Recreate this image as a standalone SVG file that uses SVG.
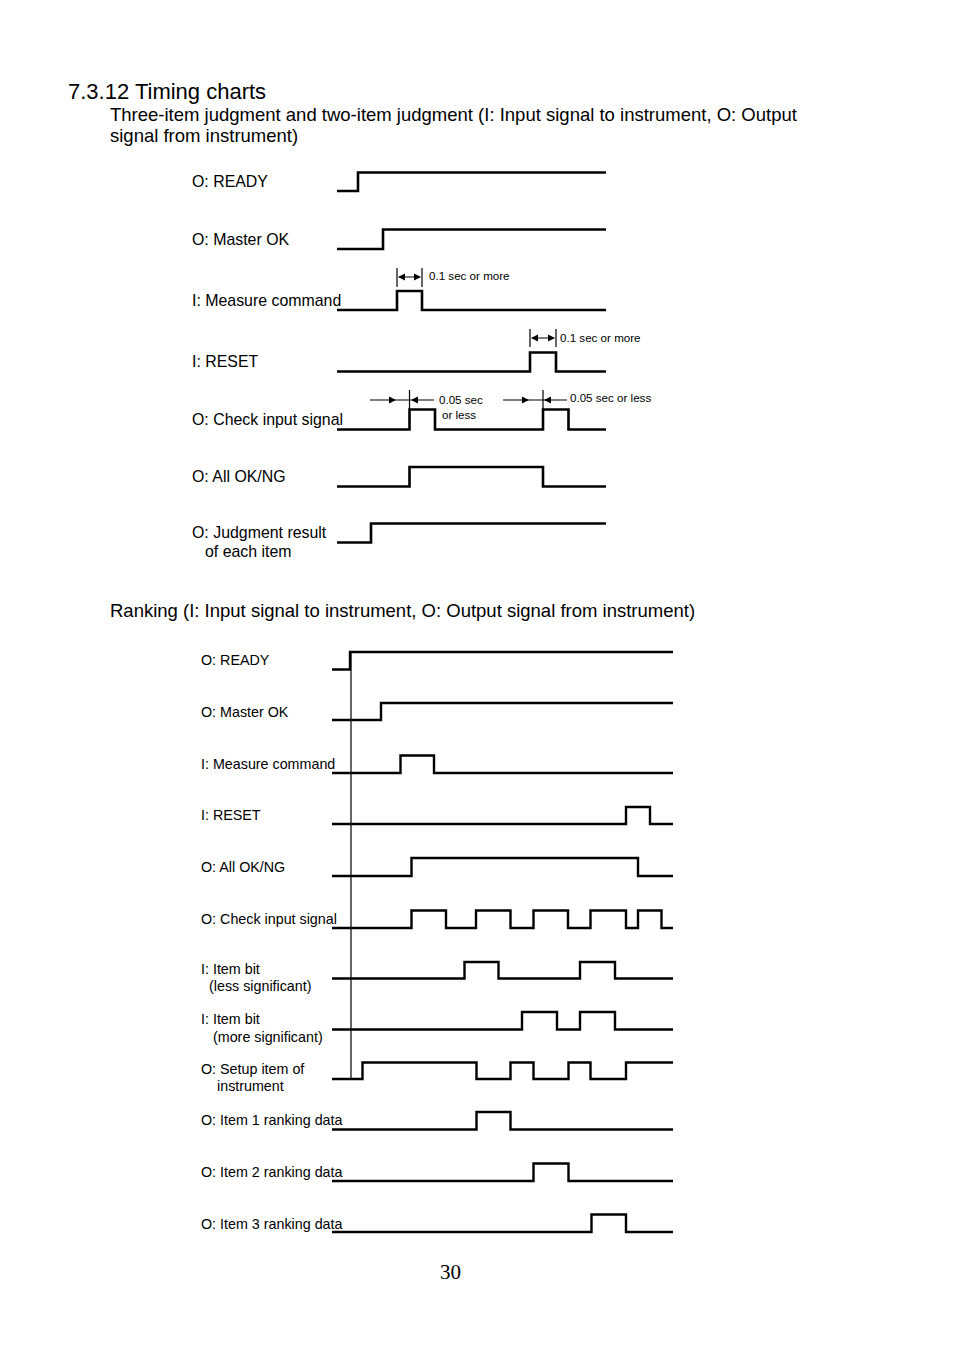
<svg xmlns="http://www.w3.org/2000/svg" width="954" height="1348" viewBox="0 0 954 1348">
<style>
text{font-family:"Liberation Sans",Arial,sans-serif;fill:#000}
.h1{font-size:22px}
.h2{font-size:18.5px}
.l1{font-size:15.9px}
.l2{font-size:14.3px}
.s{font-size:11.6px}
.w{fill:none;stroke:#000;stroke-width:2.6;stroke-linejoin:miter;stroke-linecap:butt}
.w2{fill:none;stroke:#000;stroke-width:2.4;stroke-linejoin:miter}
.t{fill:none;stroke:#000;stroke-width:1.2}
.ah{fill:#000}
</style>
<rect width="954" height="1348" fill="#fff"/>
<g id="heading">
<text class="h1" x="68" y="99">7.3.12 Timing charts</text>
<text class="h2" x="110" y="121">Three-item judgment and two-item judgment (I: Input signal to instrument, O: Output</text>
<text class="h2" x="110" y="142">signal from instrument)</text>
</g>
<g id="chart1">
<g id="c1-ready"><text class="l1" x="192" y="187">O: READY</text><path class="w" d="M337,191 H358 V172.5 H606"/></g>
<g id="c1-masterok"><text class="l1" x="192" y="245">O: Master OK</text><path class="w" d="M337,249 H383 V229.5 H606"/></g>
<g id="c1-measure"><text class="l1" x="192" y="306">I: Measure command</text><path class="w" d="M337,310 H397 V291 H422 V310 H606"/></g>
<g id="c1-reset"><text class="l1" x="192" y="367">I: RESET</text><path class="w" d="M337,371.5 H530 V352.5 H556 V371.5 H606"/></g>
<g id="c1-check"><text class="l1" x="192" y="425">O: Check input signal</text><path class="w" d="M337,429.5 H409.5 V409.5 H435 V429.5 H543 V409.5 H568.5 V429.5 H606"/></g>
<g id="c1-allok"><text class="l1" x="192" y="482">O: All OK/NG</text><path class="w" d="M337,486.5 H409.5 V467 H543 V486.5 H606"/></g>
<g id="c1-judg"><text class="l1" x="192" y="538">O: Judgment result</text><text class="l1" x="205" y="557">of each item</text><path class="w" d="M337,542.5 H371 V523.5 H606"/></g>
</g>
<g id="dimensions">
<g id="dim1">
<path class="t" d="M397,268 V287 M422,268 V287 M399,277 H420"/>
<polygon class="ah" points="398,277 405,273.5 405,280.5"/>
<polygon class="ah" points="421,277 414,273.5 414,280.5"/>
<text class="s" x="429" y="280">0.1 sec or more</text>
</g>
<g id="dim2">
<path class="t" d="M530,329 V347 M556,329 V347 M532,338 H554"/>
<polygon class="ah" points="531,338 538,334.5 538,341.5"/>
<polygon class="ah" points="555,338 548,334.5 548,341.5"/>
<text class="s" x="560" y="342">0.1 sec or more</text>
</g>
<g id="dim3">
<path class="t" d="M409.5,390 V409 M370,400 H409.5 M410,400 H434"/>
<polygon class="ah" points="396,400 389,396.5 389,403.5"/>
<polygon class="ah" points="411,400 418,396.5 418,403.5"/>
<text class="s" x="439" y="404">0.05 sec</text>
<text class="s" x="442" y="419">or less</text>
</g>
<g id="dim4">
<path class="t" d="M543,390 V409 M503,400 H543 M543,400 H567"/>
<polygon class="ah" points="529,400 522,396.5 522,403.5"/>
<polygon class="ah" points="544,400 551,396.5 551,403.5"/>
<text class="s" x="570" y="402">0.05 sec or less</text>
</g>
</g>
<g id="heading2"><text class="h2" x="110" y="617">Ranking (I: Input signal to instrument, O: Output signal from instrument)</text></g>
<g id="chart2">
<g id="c2-ready"><text class="l2" x="201" y="665">O: READY</text><path class="w2" d="M332,669.5 H350 V652 H673"/></g>
<g id="c2-masterok"><text class="l2" x="201" y="717">O: Master OK</text><path class="w2" d="M332,720 H381 V703 H673"/></g>
<g id="c2-measure"><text class="l2" x="201" y="769">I: Measure command</text><path class="w2" d="M332,773 H400.5 V755.5 H434 V773 H673"/></g>
<g id="c2-reset"><text class="l2" x="201" y="820">I: RESET</text><path class="w2" d="M332,824 H626 V807 H650 V824 H673"/></g>
<g id="c2-allok"><text class="l2" x="201" y="872">O: All OK/NG</text><path class="w2" d="M332,876 H411.5 V858 H638 V876 H673"/></g>
<g id="c2-check"><text class="l2" x="201" y="924">O: Check input signal</text><path class="w2" d="M332,928 H411.5 V910.5 H446 V928 H476 V910.5 H510.5 V928 H533.5 V910.5 H568 V928 H590.5 V910.5 H626 V928 H638 V910.5 H661.5 V928 H673"/></g>
<g id="c2-bitl"><text class="l2" x="201" y="974">I: Item bit</text><text class="l2" x="209" y="991">(less significant)</text><path class="w2" d="M332,978.5 H464.5 V962 H498.5 V978.5 H580 V962 H615 V978.5 H673"/></g>
<g id="c2-bitm"><text class="l2" x="201" y="1024">I: Item bit</text><text class="l2" x="213" y="1042">(more significant)</text><path class="w2" d="M332,1029.5 H522 V1012 H557 V1029.5 H580 V1012 H615 V1029.5 H673"/></g>
<g id="c2-setup"><text class="l2" x="201" y="1074">O: Setup item of</text><text class="l2" x="217" y="1091">instrument</text><path class="w2" d="M332,1079 H362.5 V1062.5 H476.5 V1079 H510.5 V1062.5 H533.5 V1079 H568.5 V1062.5 H590.5 V1079 H626 V1062.5 H673"/></g>
<g id="c2-item1"><text class="l2" x="201" y="1125">O: Item 1 ranking data</text><path class="w2" d="M332,1129.5 H476.5 V1112 H510.5 V1129.5 H673"/></g>
<g id="c2-item2"><text class="l2" x="201" y="1177">O: Item 2 ranking data</text><path class="w2" d="M332,1181 H533.5 V1163.5 H568.5 V1181 H673"/></g>
<g id="c2-item3"><text class="l2" x="201" y="1229">O: Item 3 ranking data</text><path class="w2" d="M332,1232 H591.5 V1214.5 H626 V1232 H673"/></g>
</g>
<g id="connectors">
<path class="t" d="M351,652 V1079"/>
</g>
<g id="page"><text x="440" y="1279" style="font-family:'Liberation Serif','Times New Roman',serif;font-size:21px">30</text></g>
</svg>
